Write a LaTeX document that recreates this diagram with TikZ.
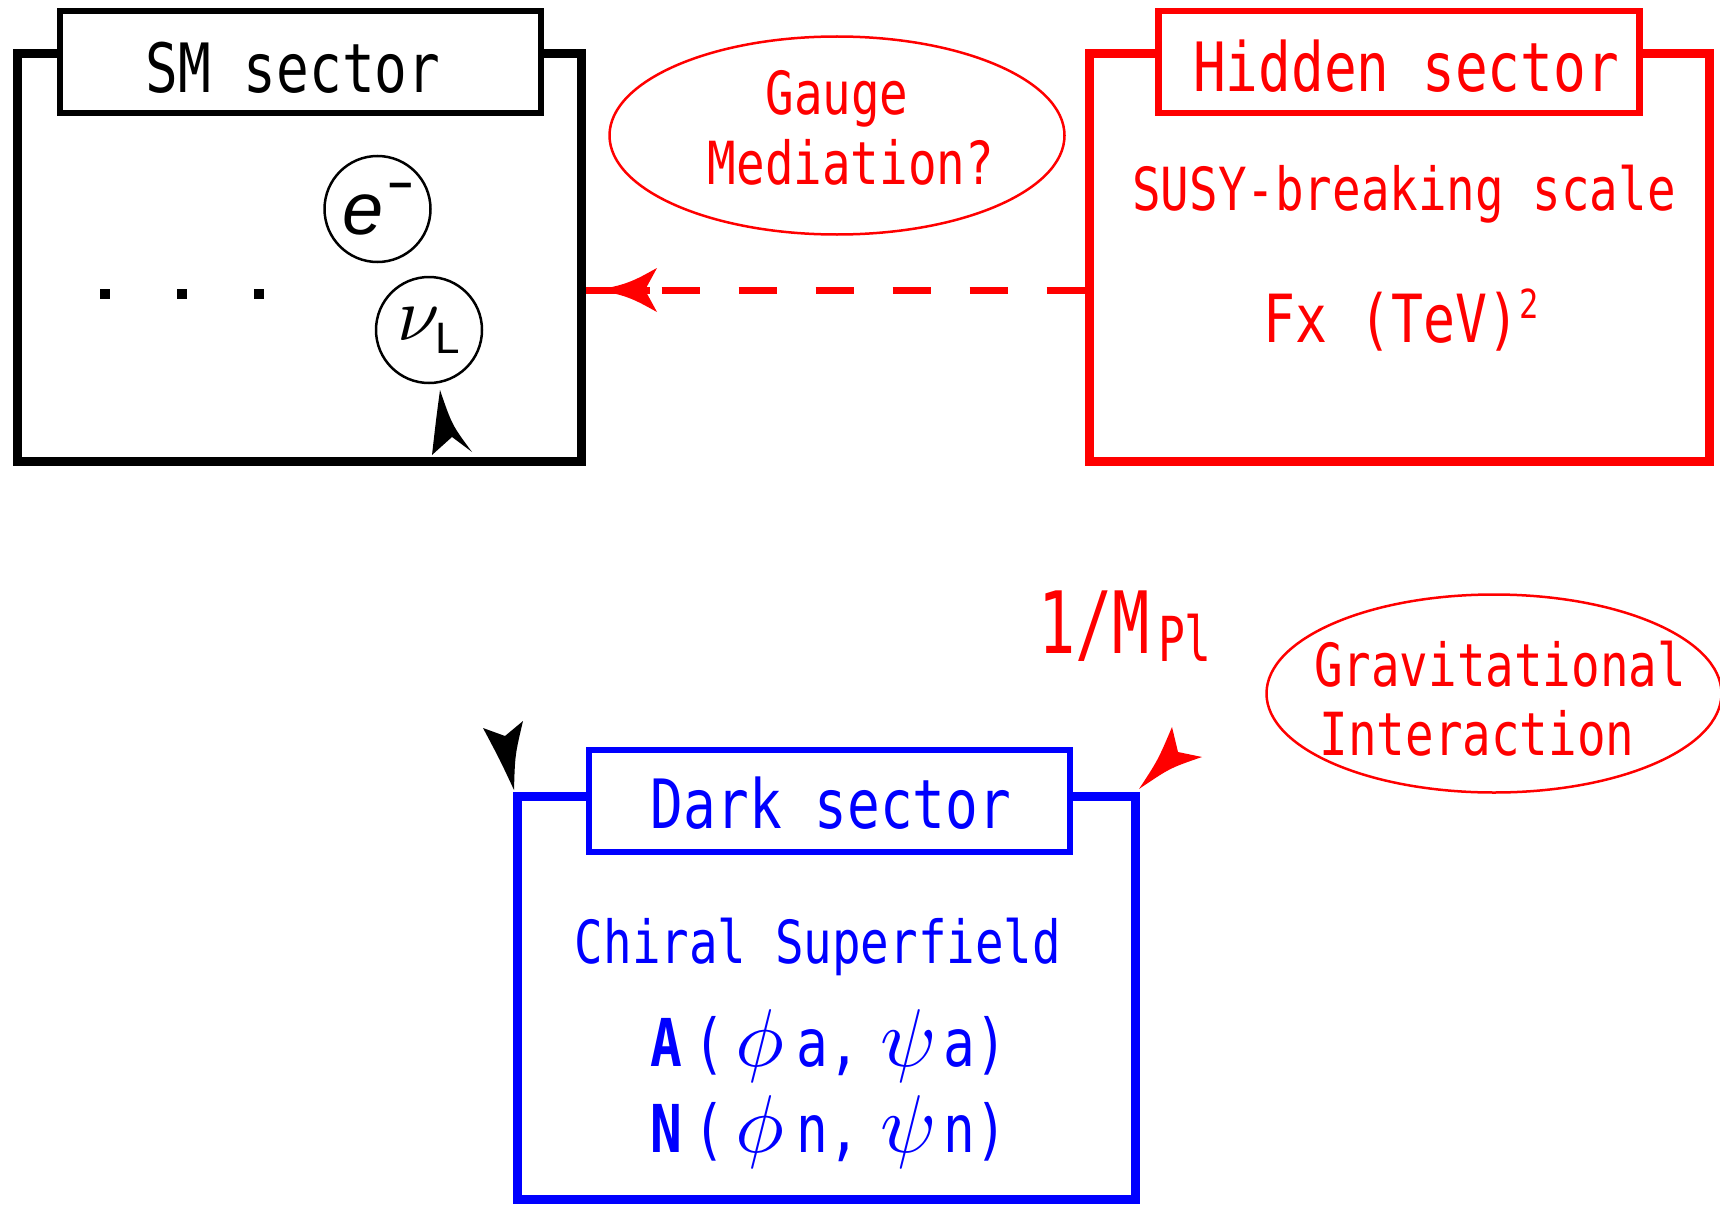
\documentclass[tikz,border=0pt]{standalone}
\usepackage{fontspec}
\usetikzlibrary{shapes.geometric}
\newfontfamily\gothic[FakeStretch=0.8]{DejaVu Sans Mono}
\newfontfamily\gothicnarrow[FakeStretch=0.72]{DejaVu Sans Mono}
\newfontfamily\sansfam{Liberation Sans}
\newfontfamily\mathgreek{latinmodern-math.otf}
\newcommand\fsz[1]{\fontsize{#1}{#1}\selectfont}
% italic Greek letters taken from the math font
\newcommand\itnu{{\mathgreek\char"1D708}}
\newcommand\itphi{{\mathgreek\char"1D719}}
\newcommand\itpsi{{\mathgreek\char"1D713}}
% one superfield line: name, then the subscript letter
\newcommand\superfield[2]{{\bfseries #1}\hspace{12pt}(\hspace{10pt}{\fsz{82}\itphi}\hspace{12pt}#2,\hspace{20pt}{\fsz{82}\itpsi}\hspace{10pt}#2)}

\begin{document}
\begin{tikzpicture}[x=1pt,y=-1pt,
  sectorbox/.style={draw, line width=9pt, inner sep=0pt},
  titlebox/.style={draw, line width=6.5pt, fill=white, inner sep=0pt,
                   minimum width=481pt, minimum height=102pt},
  titletext/.style={font=\gothic\fsz{68}, inner sep=0pt, anchor=base},
  bodytext/.style={font=\gothic\fsz{59.4}, inner sep=0pt, anchor=base},
  fieldtext/.style={font=\gothic\fsz{66}, inner sep=0pt, anchor=base west},
  bubble/.style={draw, ellipse, line width=2.5pt, inner sep=0pt,
                 minimum width=455pt, minimum height=198pt},
  particle/.style={draw, circle, line width=2.5pt, inner sep=0pt, minimum size=106pt},
  ellipsisdot/.style={fill, inner sep=0pt, minimum size=10pt},
  wire/.style={line width=7pt}
]
\useasboundingbox (0,0) rectangle (1720,1204);
\fill[white] (0,0) rectangle (1720,1204);

% ---------- SM sector ----------
\node[sectorbox, minimum width=563.5pt, minimum height=407pt] (sm) at (299.25,257.5) {};
\node[titlebox] (smtitle) at (300.5,62) {};
\node[titletext] (smlabel) at (293,93) {SM sector};
\node[particle] (electron) at (377.5,209) {{\sansfam\itshape\fsz{74}e}\hspace{5pt}\raisebox{35pt}{\sansfam\bfseries\fsz{42}\char"2212}};
\node[particle] (nu) at (429,330) {{\fsz{76}\itnu}\raisebox{-13pt}{\sansfam\fsz{44}L}};
\node[ellipsisdot] (dotA) at (105,294) {};
\node[ellipsisdot] (dotB) at (182,294) {};
\node[ellipsisdot] (dotC) at (259,294) {};

% ---------- Hidden sector ----------
\node[sectorbox, draw=red, minimum width=620pt, minimum height=407pt] (hid) at (1399,257.5) {};
\node[titlebox, draw=red] (hidtitle) at (1399,62) {};
\node[titletext, red] (hidlabel) at (1406,92) {Hidden sector};
\node[bodytext, red] (susy) at (1404,210.6) {SUSY-breaking scale};
\node[font=\gothic\fsz{66.4}, red, inner sep=0pt, anchor=base] (fx) at (1401,342)
  {Fx (TeV)\raisebox{24pt}{\fsz{40}2}};

% ---------- Dark sector ----------
\node[sectorbox, draw=blue, minimum width=618pt, minimum height=403pt] (dark) at (826,997.5) {};
\node[titlebox, draw=blue] (darktitle) at (829.5,801) {};
\node[titletext, blue] (darklabel) at (831,828) {Dark sector};
\node[bodytext, blue] (chiral) at (818,963) {Chiral Superfield};
\node[fieldtext, blue] (fieldA) at (650,1066) {\superfield{A}{a}};
\node[fieldtext, blue] (fieldN) at (650,1152) {\superfield{N}{n}};

% ---------- mediation bubbles ----------
\node[bubble, draw=red] (gauge) at (837,135.5) {};
\node[bodytext, red] (gaugeA) at (837,115) {Gauge};
\node[bodytext, red] (gaugeB) at (851,184) {Mediation?};

\node[bubble, draw=red] (grav) at (1494,693.5) {};
\node[bodytext, red] (gravA) at (1500,686) {Gravitational};
\node[bodytext, red] (gravB) at (1477,755) {Interaction};

\node[font=\gothicnarrow\fsz{86}, red, inner sep=0pt, anchor=base west] (planck) at (1038,653)
  {1/M\hspace{8pt}\raisebox{-8pt}{\fsz{62}Pl}};

% ---------- gauge-mediated link: hidden -> SM ----------
\path (sm.east) ++(0,32.5) coordinate (smport);
\path (hid.west) ++(0,32.5) coordinate (hidport);
\path (smport) ++(76,0) coordinate (headbase);
\draw[wire, red, dash pattern=on 38.5pt off 38.5pt] (headbase) -- (hidport);
\draw[wire, red] (smport) -- ++(64,0);
\fill[red] (588,290) .. controls (625,288) and (640,277) .. (657,268)
  -- (645,290) -- (657,312) .. controls (640,303) and (625,292) .. (588,290) -- cycle;

% ---------- arrow tips at the sector boxes ----------
\coordinate (tipnu) at (440,390);
\fill[black] (tipnu) .. controls (436,420) .. (432,455) -- (452,437) -- (472,452)
  .. controls (452,425) .. (tipnu) -- cycle;
\coordinate (tipdark) at (514,790);
\fill[black] (tipdark) .. controls (500,760) .. (483,728) -- (505,736) -- (523,721)
  .. controls (515,755) .. (tipdark) -- cycle;
\coordinate (tipdarkred) at (1139,789);
\fill[red] (tipdarkred) .. controls (1158,760) .. (1172,727) -- (1178,752) -- (1202,757)
  .. controls (1170,768) .. (tipdarkred) -- cycle;
\end{tikzpicture}
\end{document}
